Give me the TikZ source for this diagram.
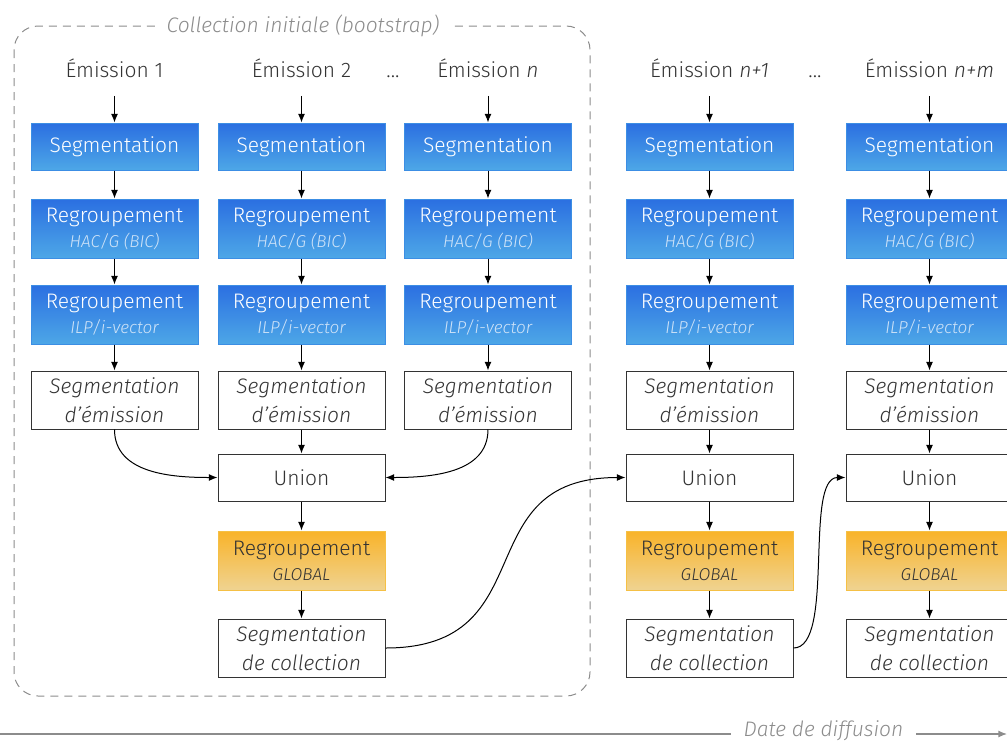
\documentclass[tikz,border=0pt]{standalone}
\usepackage{fontspec}
\setmainfont{Fira Sans Light}[ItalicFont={Fira Sans Light Italic}]
\usetikzlibrary{arrows.meta}
\definecolor{txtgray}{HTML}{333333}
\definecolor{bluetop}{HTML}{2B6FE1}
\definecolor{bluebot}{HTML}{4DA7E7}
\definecolor{blueedge}{HTML}{3C8EE4}
\definecolor{bluesub}{HTML}{CFE3F8}
\definecolor{orangetop}{HTML}{F9B329}
\definecolor{orangebot}{HTML}{EFD391}
\definecolor{orangeedge}{HTML}{F5C045}
\definecolor{lightgray}{HTML}{8C8C8C}
\newcommand{\subtxt}[1]{{\fontsize{8.6}{10}\selectfont\itshape #1}}

\begin{document}
\begin{tikzpicture}[x=0.5pt,y=-0.5pt,
  arr/.style={-{Latex[length=1.5mm,width=1.2mm]},black,line width=0.5pt},
  title/.style={text=txtgray,font=\fontsize{10.5}{12}\selectfont,text height=8pt,text depth=2.5pt,
    inner xsep=0pt,inner ysep=6.75pt},
  box/.style={draw=black!80,fill=white,minimum width=83.5pt,inner sep=0pt,align=center,
    text=txtgray,font=\fontsize{10.5}{14.5}\selectfont,line width=0.5pt},
  bluebox/.style={box,draw=blueedge,top color=bluetop,bottom color=bluebot,text=white,
    font=\fontsize{10.5}{12.5}\selectfont},
  orangebox/.style={box,draw=orangeedge,top color=orangetop,bottom color=orangebot,
    font=\fontsize{10.5}{12.5}\selectfont},
  grouplab/.style={fill=white,text=lightgray,font=\fontsize{10.5}{12}\selectfont\itshape,inner sep=3pt}]
\clip (0,0) rectangle (1007,740);

% collection initiale
\draw[lightgray,dash pattern=on 4pt off 3pt,rounded corners=12pt,line width=0.5pt] (14,26) rectangle (590,696);
\node[grouplab,inner xsep=5pt] (boot) at (303,26) {Collection initiale (bootstrap)};

% per-emission pipeline
\foreach \c/\x/\name in {1/114.5/{Émission 1},2/301.5/{Émission 2},3/488/{Émission \textit{n}},
    4/709.5/{Émission \textit{n+1}},5/929.5/{Émission \textit{n+m}}}{
  \node[title] (t\c) at (\x,71.5) {\name};
  \node[bluebox,minimum height=23.5pt] (s\c) at (\x,146.5) {Segmentation};
  \node[bluebox,minimum height=29.5pt] (h\c) at (\x,228.5) {Regroupement\\\textcolor{bluesub}{\subtxt{HAC/G (BIC)}}};
  \node[bluebox,minimum height=29.5pt] (i\c) at (\x,314.5) {Regroupement\\\textcolor{bluesub}{\subtxt{ILP/i-vector}}};
  \node[box,minimum height=29pt,font=\fontsize{10.5}{14.5}\selectfont\itshape] (e\c) at (\x,400) {Segmentation\\d'émission};
  \draw[arr] (t\c) -- (s\c);
  \draw[arr] (s\c) -- (h\c);
  \draw[arr] (h\c) -- (i\c);
  \draw[arr] (i\c) -- (e\c);
}
\node[title] (dots1) at (393,71.5) {...};
\node[title] (dots2) at (815,71.5) {...};

% global clustering
\foreach \c/\x in {2/301.5,4/709.5,5/929.5}{
  \node[box,minimum height=23.5pt] (u\c) at (\x,477.5) {Union};
  \node[orangebox,minimum height=29.5pt] (g\c) at (\x,560.5) {Regroupement\\\subtxt{GLOBAL}};
  \node[box,minimum height=29pt,font=\fontsize{10.5}{14.5}\selectfont\itshape] (k\c) at (\x,648) {Segmentation\\de collection};
  \draw[arr] (u\c) -- (g\c);
  \draw[arr] (g\c) -- (k\c);
}
\draw[arr] (e2) -- (u2);
\draw[arr] (e4) -- (u4);
\draw[arr] (e5) -- (u5);
\draw[arr] (e1.south) to[out=-90,in=180] (u2.west);
\draw[arr] (e3.south) to[out=-90,in=0] (u2.east);
\draw[arr] (k2.east) to[out=0,in=180,looseness=1.4] (u4.west);
\draw[arr] (k4.east) to[out=0,in=180,looseness=0.6] (u5.west);

% time axis
\coordinate (tl0) at (0,734);
\coordinate (tl1) at (1007,734);
\draw[lightgray,line width=0.6pt,-{Latex[length=1.5mm,width=1.2mm]}] (tl0) -- (tl1);
\node[grouplab,inner xsep=6.5pt,inner ysep=0pt] (date) at (823.5,731) {Date de diffusion};
\end{tikzpicture}
\end{document}
